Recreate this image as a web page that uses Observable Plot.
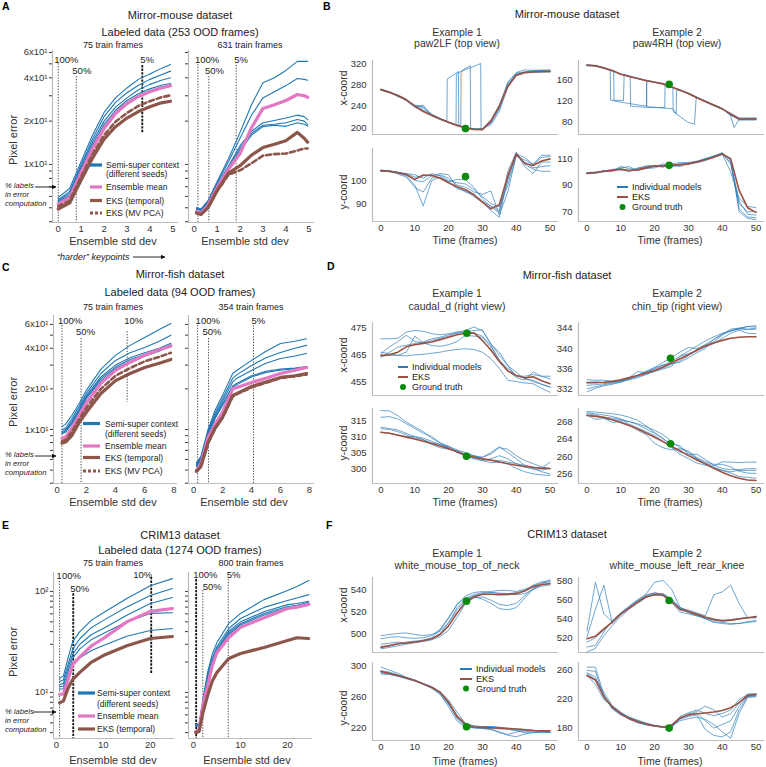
<!DOCTYPE html>
<html><head><meta charset="utf-8">
<script src="https://cdn.jsdelivr.net/npm/d3@7"></script>
<script src="https://cdn.jsdelivr.net/npm/@observablehq/plot@0.6"></script>
<style>
body{margin:0;background:#fff;}
#root{position:relative;width:766px;height:767px;overflow:hidden;font-family:"Liberation Sans",Arial,Helvetica,sans-serif;color:#222;background:#fff;}
.t{position:absolute;white-space:nowrap;line-height:1;}
</style></head><body><div id="root"></div><script>
// ===================== DATA =====================
// Panel A: Mirror-mouse, pixel error vs ensemble std dev
const A75_x = [0,0.5,1,1.5,2,2.5,3,3.5,4,4.5,4.9];
const A75_seeds = [
  [5.9,6.8,10.5,16,23,29,34,39,42.5,46.5,49.5],
  [5.7,6.5,10,15,21.5,27,31.5,35.5,39,42,44.5],
  [5.6,6.3,9.6,14.3,20,25,29,33,36,38.5,40],
  [5.5,6.1,9.3,13.7,19,23.8,27.8,31,33.5,35.5,36.5],
  [5.4,6.0,9,13.2,18.3,23,26.8,30,32.5,34.5,34.8]];
const A75_mean = [5.3,5.9,8.8,12.9,17.8,22.6,26.5,29.7,32,34,35.3];
const A75_eksT = [4.9,5.4,7.8,11.1,15,18.3,21,23.3,25.2,26.8,27.5];
const A75_eksPCA = [5.1,5.6,8.2,11.8,16,19.8,22.8,25.5,27.5,29.3,30.2];
const A75_thr = [0.0, 0.79, 3.67];
const A631_x = [0.1,0.3,0.6,1,1.5,2,2.5,3,3.5,4,4.5,4.8,4.95];
const A631_seeds = [
  [5.0,4.9,5.6,7.6,11,16.7,26,37,40,45,52,52,52],
  [5.0,4.9,5.5,7.4,10.5,15.2,22,29,32,35.3,39.6,39,38.5],
  [4.9,4.8,5.4,7.2,9.8,13.5,17,19.5,20.2,21,22,21.5,20.5],
  [4.9,4.8,5.4,7.1,9.5,13,16.5,18.7,19,19.5,20.5,20,19],
  [4.9,4.8,5.3,7.0,9.3,12.5,16,18.3,18.7,18.4,19.5,19,18.5]];
const A631_mean = [4.7,4.6,5.2,6.9,9.3,11.9,18,24.5,26,27.8,30.6,30,29.3];
const A631_eksT = [4.6,4.5,5.0,6.6,8.7,9.8,11.6,13.1,13.8,14.6,16.7,15.2,14.3];
const A631_eksPCA = [4.6,4.5,5.0,6.5,8.5,9.1,10.2,11.5,11.8,11.9,12.5,12.9,12.9];
const A631_thr = [0.16, 0.64, 1.83];

// Panel C: Mirror-fish
const C75_x = [0.33,0.6,1,1.5,2,3,4,5,6,7,7.8];
const C75_seeds = [
  [10.5,11,12.7,15.5,19.5,28,35.4,42,48,55,61],
  [9.9,10.3,12,14.8,18.5,26,32.5,37,40.5,45,50],
  [9.6,10,11.5,14.2,17.8,24.5,30,34,37,40,43.5],
  [9.4,9.8,11.2,13.8,17.3,23.8,29,33,36,39,42.5],
  [9.3,9.6,11,13.5,17,23,28.3,32,35,38,42]];
const C75_mean = [8.6,8.8,10.2,12.7,15.8,22,27.4,31.5,35.5,39,41.5];
const C75_eksT = [7.9,8.1,9.0,11.2,13.4,18.5,23,26,28.8,31,33];
const C75_eksPCA = [8.2,8.4,9.6,11.8,14.5,20,25,28.5,32,34.5,37];
const C75_thr = [0.33, 1.64, 4.8];
const C354_x = [0.2,0.5,1,1.5,2,2.7,3,4,5,6,7,7.8];
const C354_seeds = [
  [5.7,6.3,10,14,17.9,26,27.5,32.5,38,43.3,45,47],
  [5.6,6.1,9.7,13.3,17,24,25.5,29.8,34,37.2,40,42],
  [5.5,6.0,9.4,12.8,16.2,22.5,24,27.4,31,33.6,35,36.6],
  [5.4,5.9,9.2,12.4,15.5,21,22,25,27,28,28.5,29.3],
  [5.3,5.8,9.0,12.1,15,20.5,21.5,24.5,26.5,27.5,28.2,29]];
const C354_mean = [5.0,5.5,8.7,11,13.4,20,20.5,22.3,24,26,27.5,28.8];
const C354_eksT = [4.9,5.3,8.0,10.3,12.3,17.9,18.5,20.8,22.5,24.3,25,26];
const C354_eksPCA = [4.9,5.3,7.9,10.2,12.2,17.5,18.3,20.5,22.2,24,24.8,25.5];
const C354_thr = [0.28, 1.03, 4.14];

// Panel E: CRIM13
const E75_x = [0.7,1.5,2.5,3.5,5,7.5,10,15,20,24.7];
const E75_seeds = [
  [13.8,14.5,22,32,40,52,61.6,85,114,134],
  [12.8,13.3,19,27,34,44,51.7,70,91,107],
  [12,12.3,17.5,24,30,37.5,43,58,76,87],
  [11.4,11.5,16,22,27,33.5,38.4,50,60.6,61.6],
  [10.8,10.8,14.5,19,22,26,29.2,36,41,43]];
const E75_mean = [9.6,9.6,13.5,19,22.5,29,34.2,50,63.4,67.8];
const E75_eksT = [7.9,8.2,11,13.5,15.8,20,23.2,29,34.2,35.8];
const E75_thr = [0.7, 3.6, 20.2];
const E800_x = [0.5,1.2,2,3,4,5,7.5,10,15,20,22,24.5];
const E800_seeds = [
  [4.8,4.9,8.5,15.8,24,31.3,48.2,60.6,83,102,112,128],
  [4.7,4.8,8.2,14.8,22,28.5,43,54,69.5,81.5,86,93],
  [4.7,4.8,8.0,14.2,21,27,40.5,50,63,74,76,80],
  [4.6,4.7,7.9,13.8,20,26,39,48,60.5,71,73,78],
  [4.6,4.7,7.8,13.4,19.5,25.5,37.5,46.5,58.5,69,71,76]];
const E800_mean = [4.1,4.3,7.4,11.7,18.5,24.9,35,44.1,55,67.8,70,74.5];
const E800_eksT = [4.0,4.1,6.3,9.3,13,15.8,21.7,24.3,27.9,32.7,34.8,34.2];
const E800_thr = [0.57, 1.98, 7.4];
const thrLabelsA = ["100%","50%","5%"];
const thrLabels10 = ["100%","50%","10%"], thrLabels5 = ["100%","50%","5%"];

// Trace examples (frames 0..50)
const frames = [0,2.5,5,7.5,10,12.5,15,17.5,20,22.5,25,27.5,30,32.5,35,37.5,40,42.5,45,47.5,50];
// B: Mirror-mouse, paw2LF
const B1x_eks = [271,266,260,252,240,230,223,216,210,204,199,196.5,196,212,240,277,298,303,304,305,305];
const B1x_models = [
  [[0,272],[2.5,267],[5,259],[7.5,251],[10,242],[12.5,237],[15,225],[17.5,217],[19.5,212],[19.6,291],[22.9,305],[23.0,204],[25,200],[27.5,197],[30,197],[32.5,208],[35,235],[37.5,283],[40,302],[42.5,304],[45,305],[50,306]],
  [[0,270],[2.5,265],[5,261],[7.5,253],[10,239],[12.5,242],[15,222],[17.5,215],[20,209],[22.2,205],[22.3,300],[26.4,316],[26.5,199],[30,196],[32.5,210],[35,238],[37.5,280],[40,300],[42.5,304],[45,307],[50,307]],
  [[0,271],[2.5,266],[5,258],[7.5,252],[10,241],[12.5,233],[15,224],[17.5,217],[20,210],[23.6,203],[23.7,305],[29.5,320],[29.6,197],[32.5,205],[35,230],[37.5,275],[40,299],[42.5,303],[45,305],[50,305]],
  [[0,270],[2.5,267],[5,260],[7.5,250],[10,238],[12.5,231],[15,222],[17.5,216],[20,209],[22.5,204],[25,199],[27.5,197],[30,198],[32.5,214],[35,242],[37.5,285],[40,303],[42.5,308],[45,307],[50,308]],
  [[0,271],[2.5,266],[5,259],[7.5,252],[10,241],[12.5,239],[15,223],[17.5,216],[20,210],[22.5,204],[25,200],[27.5,196],[30,197],[32.5,212],[35,236],[37.5,279],[40,297],[42.5,302],[45,303],[50,304]]];
const B1x_gt = [25, 198];
const B1y_eks = [104.3,104,103.4,102.6,100.5,102.4,102.2,101,99,97.3,96,93.8,90.6,87.7,89.5,102,111.5,107.5,106.5,108.5,109.4];
const B1y_models = [
  [104.5,104.2,103.2,102,98,89,100,101.5,99.5,100.5,100.3,97,92,88.5,86,104,112.3,107,105,104,104],
  [104,103.8,103.5,103,102.5,101,103,102,100,99,98.5,96,93,90,88.5,98,110.5,109,107,110,110.5],
  [104.2,104,102.8,101.5,97,95,101,102.5,101,98,97,95,94,95.5,85,95,111,108,105.5,106,106.5],
  [104.4,104.3,103.7,102.5,100,99.5,102,103,102.5,97,95,94,91,89,87,100,112,106,103,108,108],
  [104.1,103.9,103.6,102.9,101.5,102,102.5,101,99.2,96.5,95.5,93,90.5,87,84,101,111.5,110,107,111,111]];
const B1y_gt = [25, 101.7];
// B: paw4RH
const B2x_eks = [187,186,182,177,170,166,162,158,155,152,146,140,134,126,119,112,105,95,86,86,86];
const B2x_models = [
  [[0,188],[2.5,186],[5,183],[6.9,178],[7.0,121],[10.8,121],[11.0,170],[12.5,167],[15,163],[17.5,159],[20,156],[22.5,152],[25,147],[27.5,141],[30,135],[32.5,127],[35,120],[37.5,113],[40,106],[42.5,92],[43.5,70],[45,85],[50,85]],
  [[0,187],[2.5,187],[5,182],[7.9,176],[8.0,120],[12.5,115],[17.6,110],[17.7,159],[20,155],[22.5,153],[25,146],[27.5,140],[30,134],[32.5,127],[35,118],[37.5,111],[40,104],[42.5,96],[45,88],[50,88]],
  [[0,186],[2.5,185],[5,181],[7.5,176],[10,171],[12.8,166],[12.9,110],[17.5,108],[23,107],[23.1,151],[25,146],[27.5,141],[30,133],[32.5,126],[35,119],[37.5,113],[40,106],[42.5,94],[45,84],[50,84]],
  [[0,187],[2.5,186],[5,182],[7.5,177],[10,170],[12.5,166],[15,162],[17.6,158],[17.7,109],[22.5,107],[25.4,105],[26.4,96],[26.5,141],[27.5,140],[30,134],[32.5,127],[35,118],[37.5,112],[40,105],[42.5,97],[45,87],[50,87]],
  [[0,188],[2.5,186],[5,182],[7.5,177],[10,170],[12.5,166],[15,162],[17.5,158],[20,155],[22.5,152],[25.4,145],[25.5,100],[29.8,80],[31.8,76],[32.3,126],[35,120],[37.5,112],[40,105],[42.5,93],[45,86],[50,86]]];
const B2x_gt = [24.3, 151];
const B2y_eks = [99,99.5,100.5,101,102,101,101.5,103,104.4,104.5,104.9,105.5,106.2,107.5,109.2,111,113.5,110,86,73,69.5];
const B2y_models = [
  [99,99.5,100,101,103,104,101,103,104,106,105,104,106,108,110,112,114.5,108,72,66,65.5],
  [98.5,99,101,100.5,102,100,103,104,105,104,106,107,107,108,109.5,111,114,106,76,70,70],
  [99.5,99.8,100.5,102,101.5,101,102,103.5,104,104.5,104,105,106.5,107,109,112,113.5,100,80,74,73],
  [99.2,99,100.2,101,104,102.5,101.5,102.5,103,105,104.8,106,105.5,107.5,110,111.5,114,109,70,65,64],
  [98.8,99.5,100.8,101.5,102.5,101,102.5,104.5,104.5,103.5,105.5,105,106,107,108.5,111,113,107,78,68,67.5]];
const B2y_gt = [24.3, 104.9];
// D: Mirror-fish caudal_d
const D1x_eks = [464.8,465,466,468,468.8,469.3,469.8,470.7,471.6,472.5,473.1,473.2,470.4,466.8,462.5,459,457.3,456.4,456.8,455.3,454.2];
const D1x_models = [
  [471,471,471.2,473.5,474.1,473.8,472.9,472.5,472.9,473.5,474.1,475.4,474.1,469.2,464.8,461,457,457,457.6,457,457],
  [466,465.4,464.8,464.6,465,465.2,465.6,466,466.6,467,467.3,467,466,463.6,460,455.5,455,454.5,454.2,452.5,451],
  [465.4,468,470,472.3,470,469.5,470.4,471.2,472,473.5,473.5,473.2,472,468.5,463,459.2,456.5,455.5,458.6,457,456],
  [464.1,466,467.9,468.6,469.2,469.8,471,471.6,472.5,473,473.5,474.1,474.3,469,466,461,458.5,456,455.5,454,453],
  [464.5,464.8,464.8,466,472,469.5,468.5,468.2,468.8,470,472.3,472,471.6,468,463,460,457.3,456.3,455,454,452.9]];
const D1x_gt = [25.4, 473.1];
const D1y_eks = [311.3,311,310.4,309.8,309.2,308.5,307.8,307,306.2,305.2,304.2,303.6,303,302.6,302,301.5,301,300.6,300.3,300.1,300];
const D1y_models = [
  [318.1,318,316.5,314.5,313,311.5,309.5,308,307,305.5,304.5,304,303.5,304.5,306.5,306,304,302.5,301.5,300.5,299.9],
  [316,316.2,315.5,314,312.5,311,310,308,306.5,305,304.5,303.5,303.5,305,306.8,305,303,301,300,299,298.3],
  [312.9,312.5,312,311,310,309.5,308.5,307.5,306.8,305.8,305,304,303,302.5,302.5,302,301.5,301,300.5,300,302],
  [312.4,312.2,311.5,310.5,309.5,309,307.5,306.5,306,305.5,304,303,302.5,301.8,302,301.5,300,299,298.3,298,297.8],
  [311.3,311,310.5,310,310,309,308,307.5,306.5,305,303.8,303.2,302.5,303,304,303,301.5,300.5,299.8,299.5,300]];
const D1y_gt = [25.3, 303.8];
// D: chin_tip
const D2x_eks = [333.3,333.3,333.4,333.6,333.9,334.3,334.7,335.2,335.7,336.4,337.2,338,338.8,339.7,340.5,341.1,341.6,342,342.2,342.3,342.3];
const D2x_models = [
  [333.9,333.8,333.8,333.6,333.7,334.2,334.8,335.4,336,336.7,337.5,338.5,339.5,340.5,341.5,342.3,343,343.5,344,344.3,344.5],
  [333.4,333.5,333.3,333.3,333.6,334,334.5,335,335.5,336,336.5,338.5,339,339.5,340.8,341.8,342.8,343.5,343.8,343.7,343.8],
  [332.8,332.9,333.1,333.4,333.7,334.3,335.5,335.3,336.2,336.8,337,337.3,338.2,339.2,340,341.8,342.8,343.4,343.9,344.3,344.2],
  [332.1,332.5,332.9,333.2,333.5,334,334.8,335.6,336.3,337.3,338.2,339.3,340.2,340,340.7,341.3,342.6,343.8,344,343.8,344],
  [331.5,332.2,332.7,333,333.4,333.9,334.3,334.9,335.6,336.2,336.9,337.6,338.6,339.6,340.3,341,342,343,343.6,343,342.9]];
const D2x_gt = [24.7, 338.1];
const D2y_eks = [269.4,269.2,269,268.4,267.8,267.1,266.3,265.4,264.4,263.4,262.3,261.3,260.2,259.2,258.3,257.3,256.4,255.6,255,254.6,254.5];
const D2y_models = [
  [270.3,270.2,270,269.8,269.5,269,268.3,267,265.5,264,262.8,262.5,260.5,259.5,258.5,257.8,258.8,258.7,258.6,258.7,258.7],
  [269.8,269.5,269,268.8,268.5,268,267.3,266.3,265.3,264.2,262.3,261,260.5,260.5,259.3,258,257.2,257,257,257.2,257.2],
  [269.4,269.3,268.8,267.8,268,267.2,266,265,263,262,261.5,261.8,261,259.5,258.2,257.5,256.8,256.5,256.8,256.8,256.8],
  [270,269.8,269.5,269.2,268.6,267.4,266.6,265.7,264.8,263.5,262,260.5,259.5,258.5,258,257.4,256.8,256.2,255.4,255.2,255],
  [269.5,268.5,268.7,268.4,268.3,268,267.5,266.8,266,265,263.5,262,261.2,259.8,258.8,258.2,258.2,257.6,256.6,256.2,256.1]];
const D2y_gt = [24.7, 262.9];
// F: CRIM13 white_mouse_top_of_neck
const F1x_eks = [487.3,488.8,490.4,491.2,491.9,493.2,495,499,507,519,529,534,536.5,536.5,536,536.3,537,539.5,543.5,545.5,546.2];
const F1x_models = [
  [498,499,500,500.5,499,498,499,502,510,522,531,535,537,538,537.5,537,538,540,545,548,549],
  [495,496.5,497,496,495.5,496,498,504,515,527,533,536,538,539,540,540,539,541,544,547,548],
  [485.8,487,488.5,490,491.5,492.5,494,497,503,515,528,533,534,531,527,526,528,535,542,545,547],
  [487,488,490,492,493,493.5,495,500,510,524,532,534,532,528,523,522,524,533,541,546,550],
  [490,491,492,491,492,494,496,503,514,527,535,538,539,538,537,537,536,537,541,544,545]];
const F1x_gt = [25.3, 530];
const F1y_eks = [292.3,290,287.2,284,280.8,276.5,272.2,266,253,235,225,221.5,221,220.5,220,219.5,218.8,218,217,216.7,216.7];
const F1y_models = [
  [297.9,294,290,285,281,277,273,266,251,232,222,220.5,220,219.5,219,218.5,217,216,215,214,214.5],
  [293.5,291.5,288,284.5,281.5,277,272,264,247,229,221,220.5,220.5,219,214,212,215,217,217,216,215],
  [290.5,289,286,283,280,276,271,265,252,233,224,222.5,221.5,222,221,219,217,214,214,215,214.5],
  [291.5,290,287.5,284.5,281,276,271,263,250,236,223,220.5,219.5,218,215.5,211,209,212.5,215,216,216],
  [289,288.5,286.5,284,280.5,276.5,272.5,266,256,240,226,223,222,222,221,220,219,218.5,217.5,216,216]];
const F1y_gt = [25.3, 221.8];
// F: white_mouse_left_rear_knee
const F2x_eks = [519,521.5,529.4,536.5,545.1,551,557.5,563,565,564.5,558,550,547.5,544.5,541.6,539,538.1,538.5,539.8,541,542.3];
const F2x_models = [
  [527,578,545,537,545,552,558,564,567,566,560,552,548,545,542,540,538,539,540,541,541],
  [520.7,550,575,535,544,551,558,566,578,580,571,552,546,543,541,539,537,538,540,541,541.5],
  [515.5,520,528,537,546,553,559,563,566,566,561,551,549,546,543,565,568,575,556,541,541],
  [510.3,512,526,538,546,553,560,565,567,565,558,549,547,544,540,536,535,534,535,536,537],
  [505,509,522,533,542,550,556,562,565,565,557,547,545,543,540,537,536,535,535,537,538]];
const F2x_gt = [24.3, 559];
const F2y_eks = [252.2,246,223,209,199.7,193,189,185.5,183,181.5,184,194,198.5,199.8,200.8,202,204.2,208,215,224.5,226];
const F2y_models = [
  [263.6,263.5,226,206,198,194,190,186,183,182,180,196,201,205,200,197,200,205,219,226,227],
  [259,258,222,207,200,195,191,187,184,182,181,193,199,203,210,205,195,200,214,227,227],
  [254.5,247,229,211,201,195,189,185,183,181.5,181,194,197,201,190,180,185,190,210,224,225],
  [252.2,240,219,210,202,194,188,184.5,182.5,181,181.5,192,196,198,178,170,168,175,205,223,224],
  [256,250,225,208,198.5,192,187,185,183,181.5,183,190,193,195,192,185,175,166,200,222,223]];
const F2y_gt = [24.3, 180];

// ===================== RENDER =====================
const root = document.getElementById("root");
const FONT = '"Liberation Sans", Arial, Helvetica, sans-serif';
const SPINE = "#bdbdbd";
const C_SEED = "#1f77b4", C_MEAN = "#e377c2", C_EKS = "#8c564b";
const C_IND = "#2a7ab8", C_EKS2 = "#9e5040", C_GT = "#0b8a0b";

function txt(s, x, y, o = {}) {
  const d = document.createElement("div");
  d.className = "t";
  d.textContent = s;
  d.style.left = x + "px"; d.style.top = y + "px";
  d.style.fontSize = (o.size || 11) + "px";
  if (o.weight) d.style.fontWeight = o.weight;
  if (o.italic) d.style.fontStyle = "italic";
  if (o.color) d.style.color = o.color;
  const ax = o.anchor === "start" ? "0" : o.anchor === "end" ? "-100%" : "-50%";
  d.style.transform = `translate(${ax},-50%)` + (o.rotate ? ` rotate(${o.rotate}deg)` : "");
  root.appendChild(d);
}

function mount(svg, left, top) {
  svg.style.position = "absolute";
  svg.style.left = left + "px";
  svg.style.top = top + "px";
  root.appendChild(svg);
}

const ML = 48, MR = 8, MT = 8, MB = 22;
const intFmt = d => String(d);
function frame(box, xOpt, yOpt, marks) {
  const [x0, y0, x1, y1] = box;
  const svg = Plot.plot({
    width: x1 - x0 + ML + MR, height: y1 - y0 + MT + MB,
    marginLeft: ML, marginRight: MR, marginTop: MT, marginBottom: MB,
    style: {fontFamily: FONT, fontSize: "9.5px", color: "#333", background: "none", overflow: "visible"},
    x: {label: null, ...xOpt},
    y: {label: null, ...yOpt},
    marks: [
      Plot.ruleX([xOpt.domain[0]], {stroke: SPINE, strokeWidth: 1.2}),
      Plot.ruleY([yOpt.domain[0]], {stroke: SPINE, strokeWidth: 1.2}),
      ...marks
    ]
  });
  mount(svg, x0 - ML, y0 - MT);
}

const logTicksAC = [4,5,6,7,8,9,10,20,30,40,50,60];
const logLabAC = {10: "1x10\u00b9", 20: "2x10\u00b9", 40: "4x10\u00b9", 60: "6x10\u00b9"};
const logTicksE = [4,5,6,7,8,9,10,20,30,40,50,60,70,80,90,100];
const logLabE = {10: "10\u00b9", 100: "10\u00b2"};

function errPlot(box, xDom, xTicks, yDom, yTicks, yLab, showYLab, xs, seeds, mean, eksT, eksPCA, thr, thrLab, thrCfg) {
  const pts = arr => xs.map((x, i) => ({x, y: arr[i]}));
  const marks = [];
  thr.forEach((t, i) => {
    const c = thrCfg[i];
    const row = [{x: t, y1: c.top, y2: c.bottom ?? yDom[0], ly: c.ly, label: thrLab[i]}];
    marks.push(Plot.ruleX(row, {x: "x", y1: "y1", y2: "y2", stroke: c.thick ? "#111" : "#333",
      strokeWidth: c.thick ? 1.8 : 0.9, strokeDasharray: c.thick ? "2.4,1.2" : "1.3,1.5"}));
    marks.push(Plot.text(row, {x: "x", y: "ly", text: "label", textAnchor: c.anchor || "start", dx: c.dx, fontSize: 9.5, fill: "#222"}));
  });
  seeds.forEach(s => marks.push(Plot.line(pts(s), {x: "x", y: "y", stroke: C_SEED, strokeWidth: 1.1})));
  marks.push(Plot.line(pts(mean), {x: "x", y: "y", stroke: C_MEAN, strokeWidth: 3.2}));
  if (eksPCA) marks.push(Plot.line(pts(eksPCA), {x: "x", y: "y", stroke: C_EKS, strokeWidth: 2.6, strokeDasharray: "5,3"}));
  marks.push(Plot.line(pts(eksT), {x: "x", y: "y", stroke: C_EKS, strokeWidth: 3.2}));
  frame(box,
    {domain: xDom, ticks: xTicks, tickSize: 0, tickPadding: 3, tickFormat: intFmt},
    {type: "log", domain: yDom, ticks: yTicks, tickSize: 3, tickPadding: 2,
     tickFormat: d => (showYLab && yLab[d]) ? yLab[d] : ""},
    marks);
}

function toPts(m) {
  if (typeof m[0] === "number") return frames.map((f, i) => ({f, v: m[i]}));
  return m.map(([f, v]) => ({f, v}));
}
function tracePlot(box, yDom, yTicks, showX, models, eks, gt) {
  const marks = [];
  models.forEach(m => marks.push(Plot.line(toPts(m), {x: "f", y: "v", stroke: C_IND, strokeWidth: 0.9, strokeOpacity: 0.75})));
  marks.push(Plot.line(toPts(eks), {x: "f", y: "v", stroke: C_EKS2, strokeWidth: 1.6}));
  marks.push(Plot.dot([{f: gt[0], v: gt[1]}], {x: "f", y: "v", r: 3.8, fill: C_GT, stroke: "none"}));
  frame(box,
    showX ? {domain: [-2.5, 52.5], ticks: [0,10,20,30,40,50], tickSize: 0, tickPadding: 3, tickFormat: intFmt} : {domain: [-2.5, 52.5], axis: null},
    {domain: yDom, ticks: yTicks, tickSize: 0, tickPadding: 6, tickFormat: intFmt},
    marks);
}

// ---- A ----
errPlot([52,50,178,222], [-0.25,5.25], [0,1,2,3,4,5], [3.95,61.9], logTicksAC, logLabAC, true,
  A75_x, A75_seeds, A75_mean, A75_eksT, A75_eksPCA, A75_thr, thrLabelsA,
  [{top: 50, ly: 53.6, dx: -4}, {top: 40.8, ly: 44.3, dx: -4}, {top: 48.7, bottom: 16.4, ly: 52.8, dx: -2, thick: true}]);
errPlot([188,50,314,222], [-0.25,5.25], [0,1,2,3,4,5], [3.95,61.9], logTicksAC, logLabAC, false,
  A631_x, A631_seeds, A631_mean, A631_eksT, A631_eksPCA, A631_thr, thrLabelsA,
  [{top: 49.4, ly: 52.8, dx: -3}, {top: 40.8, ly: 44.3, dx: -4}, {top: 48.7, ly: 52.8, dx: -2}]);
// ---- C ----
errPlot([53,315,177,483], [-0.25,8.25], [0,2,4,6,8], [3.98,69.9], logTicksAC, logLabAC, true,
  C75_x, C75_seeds, C75_mean, C75_eksT, C75_eksPCA, C75_thr, thrLabels10,
  [{top: 58.9, ly: 64.1, dx: -4}, {top: 47.2, ly: 52.4, dx: -5}, {top: 53, bottom: 15.9, ly: 64.1, dx: -3}]);
errPlot([188,315,314,483], [-0.35,8.35], [0,2,4,6,8], [3.98,69.9], logTicksAC, logLabAC, false,
  C354_x, C354_seeds, C354_mean, C354_eksT, C354_eksPCA, C354_thr, thrLabels5,
  [{top: 58.9, ly: 64.1, dx: -2}, {top: 47.2, ly: 52.4, dx: -6}, {top: 58.9, ly: 64.1, dx: -2}]);
// ---- E ----
errPlot([53,572,174,738], [-0.6,25.15], [0,10,20], [3.5,154], logTicksE, logLabE, true,
  E75_x, E75_seeds, E75_mean, E75_eksT, null, E75_thr, thrLabels10,
  [{top: 125.6, ly: 141, dx: -3}, {top: 94.8, ly: 107, dx: -3, thick: true}, {top: 137.6, bottom: 15.4, ly: 147, dx: 1, anchor: "end", thick: true}]);
errPlot([188,572,312,738], [-1.06,25.3], [0,10,20], [3.5,154], logTicksE, logLabE, false,
  E800_x, E800_seeds, E800_mean, E800_eksT, null, E800_thr, thrLabels5,
  [{top: 131, ly: 144, dx: -3, thick: true}, {top: 102, ly: 112, dx: 0}, {top: 131, ly: 144, dx: -1.5}]);

// ---- B ----
tracePlot([372,60,558,134], [186.9,325.6], [200,240,280,320], false, B1x_models, B1x_eks, B1x_gt);
tracePlot([372,148,558,221], [82.2,113.9], [90,100], true, B1y_models, B1y_eks, B1y_gt);
tracePlot([578,60,764,134], [56.8,196], [80,120,160], false, B2x_models, B2x_eks, B2x_gt);
tracePlot([578,148,764,221], [62.6,117.6], [70,90,110], true, B2y_models, B2y_eks, B2y_gt);
// ---- D ----
tracePlot([372,322,558,395], [449.8,477.1], [455,465,475], false, D1x_models, D1x_eks, D1x_gt);
tracePlot([372,408,558,483], [295.3,318.75], [300,305,310,315], true, D1y_models, D1y_eks, D1y_gt);
tracePlot([578,322,764,395], [330.8,345.1], [332,336,340,344], false, D2x_models, D2x_eks, D2x_gt);
tracePlot([578,408,764,483], [253.8,271], [256,260,264,268], true, D2y_models, D2y_eks, D2y_gt);
// ---- F ----
tracePlot([372,577,558,652], [482.3,552], [500,520,540], false, F1x_models, F1x_eks, F1x_gt);
tracePlot([372,662,558,740], [204.2,303.8], [220,260,300], true, F1y_models, F1y_eks, F1y_gt);
tracePlot([578,577,764,652], [504.6,583.1], [520,540,560,580], false, F2x_models, F2x_eks, F2x_gt);
tracePlot([578,662,764,740], [163,270], [180,220,260], true, F2y_models, F2y_eks, F2y_gt);

// ---- Text ----
[["A",2,6],["B",323,6],["C",2,267],["D",327,266],["E",2,525],["F",326,525]].forEach(([s,x,y]) => txt(s, x, y, {size: 10.5, weight: "bold", anchor: "start", color: "#000"}));
[["Mirror-mouse dataset",180,15],["Labeled data (253 OOD frames)",180,32],
 ["Mirror-fish dataset",180,274],["Labeled data (94 OOD frames)",180,292],
 ["CRIM13 dataset",180,535],["Labeled data (1274 OOD frames)",180,550],
 ["Mirror-mouse dataset",567,14],["Mirror-fish dataset",567,275],["CRIM13 dataset",567,534]].forEach(([s,x,y]) => txt(s, x, y, {size: 11}));
[["75 train frames",113,45],["631 train frames",250,45],["75 train frames",113,307],["354 train frames",251,307],
 ["75 train frames",113,563],["800 train frames",251,563]].forEach(([s,x,y]) => txt(s, x, y, {size: 9}));
[["Example 1",457,32],["paw2LF (top view)",457,43],["Example 2",677,32],["paw4RH (top view)",677,43],
 ["Example 1",457,293],["caudal_d (right view)",457,306],["Example 2",677,293],["chin_tip (right view)",677,306],
 ["Example 1",457,553],["white_mouse_top_of_neck",457,565],["Example 2",677,553],["white_mouse_left_rear_knee",677,565]].forEach(([s,x,y]) => txt(s, x, y, {size: 10.5, color: "#333"}));
[[140],[402],[652]].forEach(([y]) => txt("Pixel error", 13, y, {size: 11, rotate: -90, color: "#333"}));
[[113,241],[245,241],[113,502],[244,502],[113,760],[247,760]].forEach(([x,y]) => txt("Ensemble std dev", x, y, {size: 11, color: "#333"}));
[[465,240],[670,240],[465,502],[670,502],[465,761],[670,761]].forEach(([x,y]) => txt("Time (frames)", x, y, {size: 10.5, color: "#333"}));
[[88],[355],[605]].forEach(([y]) => txt("x-coord", 343, y, {size: 10.5, rotate: -90, color: "#333"}));
[[192],[443],[708]].forEach(([y]) => txt("y-coord", 343, y, {size: 10.5, rotate: -90, color: "#333"}));
[186, 455, 712].forEach(y => {
  txt("% labels", 5, y, {size: 7.6, italic: true, anchor: "start"});
  txt("in error", 5, y + 9, {size: 7.6, italic: true, anchor: "start"});
  txt("computation", 5, y + 18, {size: 7.6, italic: true, anchor: "start"});
});
txt("\u201charder\u201d keypoints", 57, 257, {size: 9, italic: true, anchor: "start"});

// ---- overlay: legends & arrows ----
const ov = d3.create("svg").attr("width", 766).attr("height", 767)
  .style("position", "absolute").style("left", "0px").style("top", "0px").style("pointer-events", "none");
const defs = ov.append("defs");
defs.append("marker").attr("id", "ah").attr("viewBox", "0 0 10 10").attr("refX", 9).attr("refY", 5)
  .attr("markerWidth", 5).attr("markerHeight", 5).attr("orient", "auto")
  .append("path").attr("d", "M0,0 L10,5 L0,10 z").attr("fill", "#111");
function arrow(x1, y, x2) {
  ov.append("line").attr("x1", x1).attr("x2", x2).attr("y1", y).attr("y2", y).attr("stroke", "#111").attr("stroke-width", 0.9).attr("marker-end", "url(#ah)");
}
arrow(35, 187, 56); arrow(35, 456, 56); arrow(33, 712, 56); arrow(133, 257, 165);

function errLegend(x1, x2, tx, ys, withPCA) {
  const items = [[C_SEED, null], [C_MEAN, null], [C_EKS, null]];
  const labels = ["Semi-super context", "Ensemble mean", "EKS (temporal)"];
  const yy = [ys[0], ys[2], ys[3]];
  if (withPCA) { items.push([C_EKS, "3,2"]); labels.push("EKS (MV PCA)"); yy.push(ys[4]); }
  items.forEach(([c, da], i) => {
    const l = ov.append("line").attr("x1", x1).attr("x2", x2).attr("y1", yy[i]).attr("y2", yy[i]).attr("stroke", c).attr("stroke-width", 3.2);
    if (da) l.attr("stroke-dasharray", da);
    txt(labels[i], tx, yy[i], {size: 8.5, anchor: "start"});
  });
  txt("(different seeds)", tx, ys[1], {size: 8.5, anchor: "start"});
}
errLegend(90, 102, 106, [165, 173.5, 187, 200.5, 213], true);
errLegend(83, 100, 105, [423.5, 433.5, 446, 457.5, 471], true);
errLegend(78, 95, 97, [693, 704, 716, 729], false);

function traceLegend(x1, x2, tx, ys) {
  ov.append("line").attr("x1", x1).attr("x2", x2).attr("y1", ys[0]).attr("y2", ys[0]).attr("stroke", C_IND).attr("stroke-width", 2);
  ov.append("line").attr("x1", x1).attr("x2", x2).attr("y1", ys[1]).attr("y2", ys[1]).attr("stroke", C_EKS2).attr("stroke-width", 2);
  ov.append("circle").attr("cx", (x1 + x2) / 2).attr("cy", ys[2]).attr("r", 3).attr("fill", C_GT);
  txt("Individual models", tx, ys[0], {size: 9, anchor: "start"});
  txt("EKS", tx, ys[1], {size: 9, anchor: "start"});
  txt("Ground truth", tx, ys[2], {size: 9, anchor: "start"});
}
traceLegend(617, 628, 632, [187, 197, 207]);
traceLegend(398, 408, 412, [367, 377, 387]);
traceLegend(460, 472, 476, [669, 679, 688.5]);
root.appendChild(ov.node());
</script></body></html>
